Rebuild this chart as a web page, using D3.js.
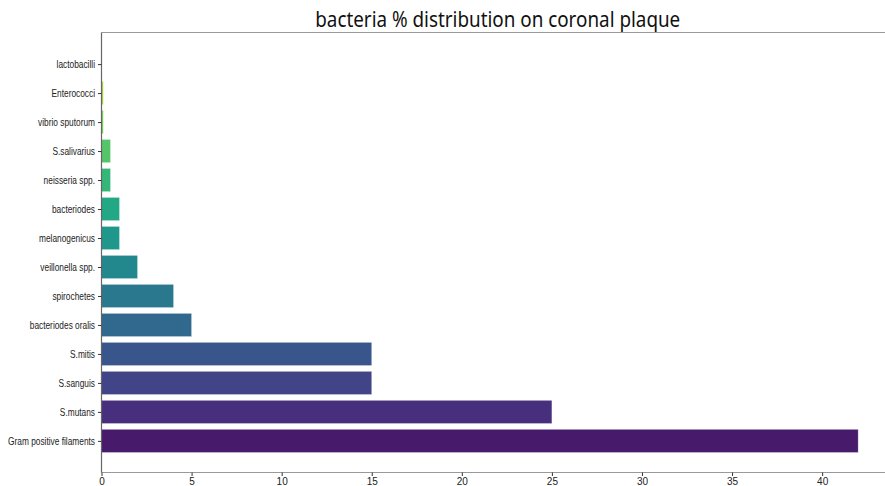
<!DOCTYPE html>
<html><head><meta charset="utf-8">
<script src="https://cdn.jsdelivr.net/npm/d3@7"></script>
<style>
body{margin:0;background:#fff;}
svg{display:block;font-family:"Noto Sans","DejaVu Sans",sans-serif;}
</style></head>
<body><svg id="c" width="885" height="486"></svg>
<script>
const categories = ["Gram positive filaments","S.mutans","S.sanguis","S.mitis","bacteriodes oralis","spirochetes","veillonella spp.","melanogenicus","bacteriodes","neisseria spp.","S.salivarius","vibrio sputorum","Enterococci","lactobacilli"];
const values = [42,25,15,15,5,4,2,1,1,0.5,0.5,0.1,0.1,0.01];
const xTicks = [0,5,10,15,20,25,30,35,40];
const title = "bacteria % distribution on coronal plaque";

(function(){
const svg = d3.select("#c");
const mL = 101.5, mR = 896, mT = 32.5, mB = 472.5;
const n = categories.length;
const x = d3.scaleLinear().domain([0, 42*1.05]).range([mL, mR]);
const y = d3.scaleLinear().domain([-1.09, n - 1 + 1.09]).range([mB, mT]);
const bandH = Math.abs(y(1) - y(0));
const color = i => d3.interpolateViridis((i + 1) / (n + 1));

svg.selectAll("rect.bar").data(values).join("rect")
  .attr("class","bar")
  .attr("x", x(0))
  .attr("y", (d,i) => y(i) - bandH*0.4)
  .attr("width", d => x(d) - x(0))
  .attr("height", bandH*0.8)
  .attr("fill", (d,i) => color(i))
  .attr("stroke", "#ffffff").attr("stroke-width", 0.6).attr("stroke-opacity", 0.5);

const sp = svg.append("g").attr("stroke","#999").attr("stroke-width",1.2).attr("fill","none");
sp.append("line").attr("x1",mL).attr("x2",mR).attr("y1",mT).attr("y2",mT);
sp.append("line").attr("x1",mL).attr("x2",mR).attr("y1",mB).attr("y2",mB);
sp.append("line").attr("x1",mL).attr("x2",mL).attr("y1",mT).attr("y2",mB).attr("stroke","#666");

const xa = svg.append("g").attr("transform",`translate(0,${mB})`)
  .call(d3.axisBottom(x).tickValues(xTicks).tickSize(3.5).tickPadding(2));
xa.select(".domain").remove();
xa.selectAll("line").attr("stroke","#333");
xa.selectAll("text").attr("font-size",10).attr("fill","#222");

const ya = svg.append("g").attr("transform",`translate(${mL},0)`)
  .call(d3.axisLeft(y).tickValues(d3.range(n)).tickFormat(i => categories[i]).tickSize(3.5).tickPadding(3));
ya.select(".domain").remove();
ya.selectAll("line").attr("stroke","#333");
const yt = ya.selectAll("text").attr("font-size",10.5).attr("fill","#222");
const ref = yt.filter(i => i === 0).node().getComputedTextLength();
const ratio = 87 / ref;
yt.each(function(){ const w = this.getComputedTextLength(); d3.select(this).attr("textLength", w*ratio).attr("lengthAdjust","spacingAndGlyphs"); });

const t = svg.append("text").attr("x",(mL+mR)/2 - 1).attr("y",27).attr("text-anchor","middle")
  .attr("font-size",22).attr("fill","#111").text(title);
t.attr("textLength", 365).attr("lengthAdjust","spacingAndGlyphs");
})();
</script></body></html>
